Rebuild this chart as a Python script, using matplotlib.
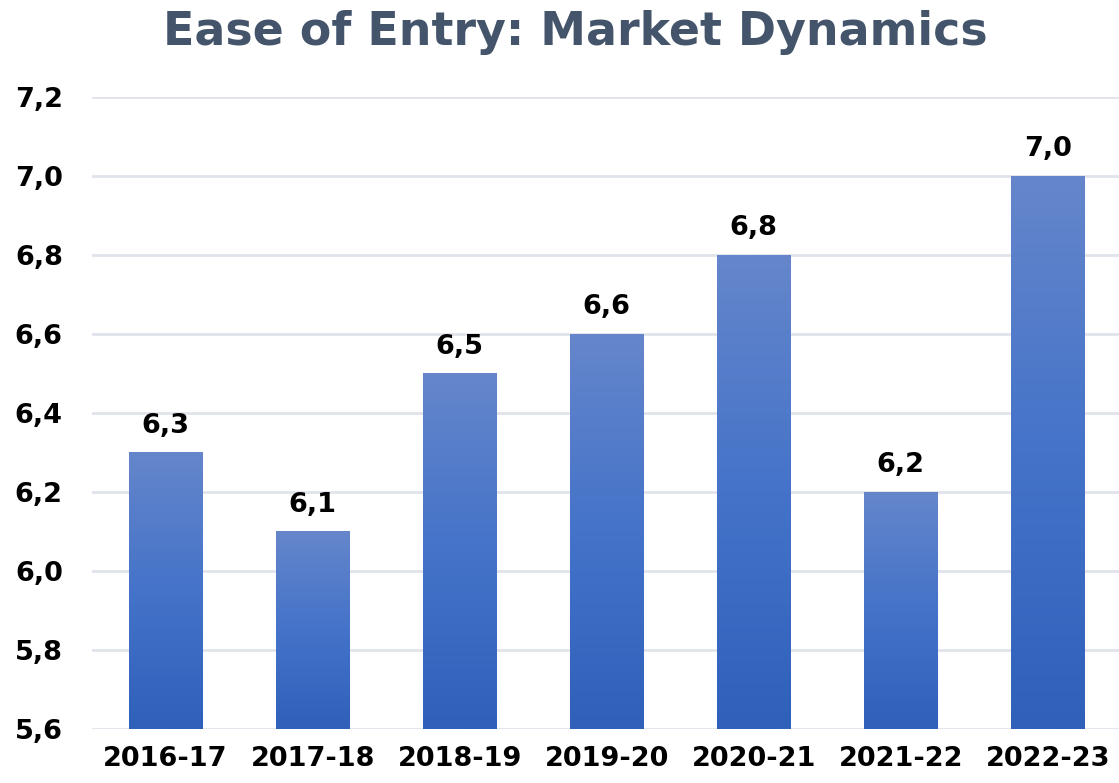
import matplotlib.pyplot as plt
import numpy as np
from matplotlib.colors import LinearSegmentedColormap

seasons = ['2016-17', '2017-18', '2018-19', '2019-20', '2020-21', '2021-22', '2022-23']
scores = [6.3, 6.1, 6.5, 6.6, 6.8, 6.2, 7.0]
yticks = [5.6, 5.8, 6.0, 6.2, 6.4, 6.6, 6.8, 7.0, 7.2]

plt.rcParams['font.family'] = 'DejaVu Sans'
plt.rcParams['font.weight'] = 'bold'

fig = plt.figure(figsize=(11.19, 7.83), dpi=100)
ax = fig.add_axes([0.0822, 0.069, 0.92, 0.807])

ymin, ymax = 5.6, 7.2
width = 0.5
cmap = LinearSegmentedColormap.from_list('bar', ['#2f60ba', '#4473c9', '#6586cb'])
grad = np.linspace(0, 1, 256).reshape(-1, 1)

for i, v in enumerate(scores):
    ax.imshow(grad, cmap=cmap, origin='lower', aspect='auto',
              extent=(i - width / 2, i + width / 2, ymin, v), zorder=3)
    ax.annotate(f'{v:.1f}'.replace('.', ','), (i, v), xytext=(0, 10),
                textcoords='offset points', ha='center', va='bottom',
                fontsize=19.5, fontweight='bold', color='black')

ax.set_xlim(-0.5, len(seasons) - 0.5)
ax.set_ylim(ymin, ymax)
ax.set_xticks(range(len(seasons)))
ax.set_xticklabels(seasons, fontsize=19.5, fontweight='bold')
ax.set_yticks(yticks)
ax.set_yticklabels([f'{t:.1f}'.replace('.', ',') for t in yticks], fontsize=19.5, fontweight='bold')
ax.tick_params(length=0, axis='y', pad=21)
ax.tick_params(length=0, axis='x', pad=12)
for s in ax.spines.values():
    s.set_visible(False)
ax.grid(axis='y', color='#e0e3eb', linewidth=2, zorder=0)
ax.set_axisbelow(True)

fig.text(0.514, 0.958, 'Ease of Entry: Market Dynamics', ha='center', va='center',
         fontsize=33, fontweight='bold', color='#44546a')

fig.savefig('out.png', dpi=100)
